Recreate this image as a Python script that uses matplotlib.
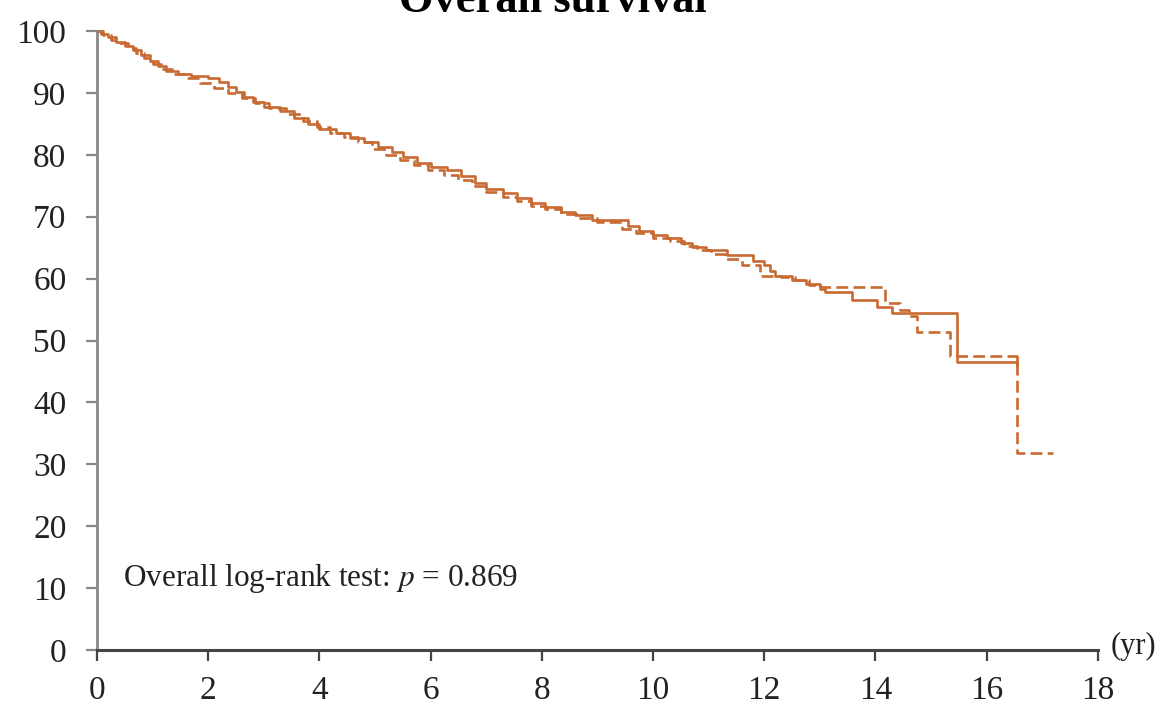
import matplotlib
matplotlib.use("Agg")
import matplotlib.pyplot as plt

# Kaplan-Meier steps (years, % surviving)
solid_t = [0, 0.08, 0.2, 0.35, 0.5, 0.65, 0.8, 0.95, 1.1, 1.25, 1.45, 1.7, 2.0, 2.2,
           2.35, 2.5, 2.65, 2.8, 3.0, 3.3, 3.55, 3.8, 4.0, 4.3, 4.55, 4.8, 5.05, 5.3,
           5.5, 5.75, 6.0, 6.3, 6.55, 6.8, 7.0, 7.3, 7.55, 7.8, 8.05, 8.35, 8.6, 8.9,
           9.55, 9.75, 10.0, 10.25, 10.5, 10.7, 10.95, 11.33, 11.8, 12.0, 12.1, 12.2,
           12.5, 12.75, 13.0, 13.1, 13.58, 14.03, 14.3, 15.47, 16.55]
solid_s = [100, 99.5, 99.0, 98.3, 97.6, 97.0, 96.2, 95.2, 94.3, 93.5, 93.0, 92.8, 92.4, 91.8,
           91.0, 90.2, 89.3, 88.5, 87.8, 87.0, 86.0, 85.0, 84.2, 83.6, 82.7, 82.0, 81.2, 80.4,
           79.7, 78.7, 78.0, 77.5, 76.5, 75.5, 74.5, 73.8, 73.0, 72.2, 71.5, 70.8, 70.3, 69.5,
           68.5, 67.7, 67.0, 66.5, 65.8, 65.1, 64.7, 63.8, 62.9, 62.2, 61.2, 60.5,
           59.8, 59.2, 58.4, 57.8, 56.5, 55.4, 54.4, 46.5, 46.5]

dashed_t = [0, 0.1, 0.25, 0.4, 0.55, 0.7, 0.85, 1.0, 1.15, 1.35, 1.6, 1.85, 2.1, 2.35,
            2.6, 2.85, 3.1, 3.4, 3.7, 3.95, 4.2, 4.45, 4.7, 4.95, 5.2, 5.45, 5.7, 5.95,
            6.25, 6.5, 6.75, 7.0, 7.3, 7.55, 7.8, 8.05, 8.35, 8.65, 9.0, 9.44, 9.7, 10.0,
            10.3, 10.55, 10.8, 11.05, 11.3, 11.6, 11.93, 12.3, 12.55, 12.8, 13.0, 14.17,
            14.44, 14.6, 14.75, 15.34, 16.55, 17.2]
dashed_s = [100, 99.3, 98.6, 98.0, 97.3, 96.5, 95.6, 94.6, 93.8, 93.0, 92.4, 91.6, 90.8, 90.0,
            89.2, 88.3, 87.5, 86.6, 85.5, 84.5, 83.6, 82.8, 82.0, 81.0, 80.0, 79.2, 78.3, 77.5,
            76.8, 76.0, 75.0, 74.0, 73.2, 72.6, 71.8, 71.2, 70.5, 69.8, 69.2, 68.0, 67.4, 66.6,
            66.0, 65.3, 64.6, 64.0, 63.2, 62.2, 60.4, 60.3, 59.8, 59.0, 58.6, 56.0,
            55.0, 54.0, 51.4, 47.5, 31.8, 31.8]

x_ticks = list(range(0, 19, 2))
y_ticks = list(range(0, 101, 10))

color = "#C96A32"

plt.rcParams["font.family"] = ["Liberation Serif", "DejaVu Serif"]
plt.rcParams["mathtext.fontset"] = "stix"

fig = plt.figure(figsize=(11.61, 7.05), dpi=100)
ax = fig.add_axes([0.0835, 0.078, 0.862, 0.878])

ax.step(solid_t, solid_s, where="post", color=color, lw=1.9, clip_on=False)
ax.plot([solid_t[-1]], [solid_s[-1]], marker="|", color=color, ms=7, mew=1.9, clip_on=False)
ax.step(dashed_t, dashed_s, where="post", color=color, lw=1.9, ls=(0, (4.5, 2)), clip_on=False)

ax.set_xlim(0, 18)
ax.set_ylim(0, 100)
ax.set_xticks(x_ticks)
ax.set_yticks(y_ticks)
ax.tick_params(axis="both", labelsize=24, length=8, width=1.6, direction="out")
ax.tick_params(axis="y", colors="#888888", labelcolor="#222222", pad=14)
ax.tick_params(axis="x", colors="#444444", labelcolor="#222222", pad=10)

for side in ("top", "right"):
    ax.spines[side].set_visible(False)
ax.spines["left"].set_color("#888888")
ax.spines["left"].set_linewidth(2)
ax.spines["bottom"].set_color("#444444")
ax.spines["bottom"].set_linewidth(2.2)

ax.text(18.65, 0.6, "(yr)", fontsize=22, va="center", ha="center", color="#222222",
        clip_on=False)
ax.text(0.47, 11.5, "Overall log-rank test: $p$ = 0.869", fontsize=22.5, va="center",
        color="#222222")

fig.text(0.476, 0.983, "Overall survival", fontsize=32, fontweight="bold", ha="center",
         va="baseline")

fig.savefig("out.png", dpi=100)
